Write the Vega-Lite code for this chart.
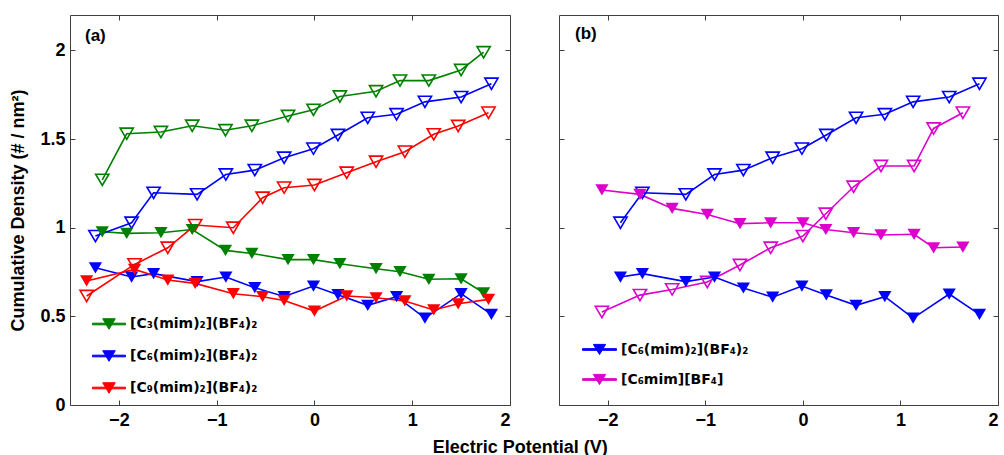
{
"$schema": "https://vega.github.io/schema/vega-lite/v6.json",
"padding": {"left": 9, "top": 14, "right": 2, "bottom": 0},
"background": "white",
"datasets": {"d": [
{"p":"a","s":"C3","t":"o","x":-2.17,"y":1.27},{"p":"a","s":"C3","t":"o","x":-1.92,"y":1.53},{"p":"a","s":"C3","t":"o","x":-1.57,"y":1.54},{"p":"a","s":"C3","t":"o","x":-1.25,"y":1.575},{"p":"a","s":"C3","t":"o","x":-0.91,"y":1.55},{"p":"a","s":"C3","t":"o","x":-0.64,"y":1.575},{"p":"a","s":"C3","t":"o","x":-0.27,"y":1.63},{"p":"a","s":"C3","t":"o","x":-0.01,"y":1.665},{"p":"a","s":"C3","t":"o","x":0.26,"y":1.74},{"p":"a","s":"C3","t":"o","x":0.63,"y":1.77},{"p":"a","s":"C3","t":"o","x":0.875,"y":1.83},{"p":"a","s":"C3","t":"o","x":1.17,"y":1.83},{"p":"a","s":"C3","t":"o","x":1.5,"y":1.89},{"p":"a","s":"C3","t":"o","x":1.73,"y":1.99},
{"p":"a","s":"C3","t":"f","x":-2.17,"y":0.977},{"p":"a","s":"C3","t":"f","x":-1.92,"y":0.968},{"p":"a","s":"C3","t":"f","x":-1.57,"y":0.972},{"p":"a","s":"C3","t":"f","x":-1.25,"y":0.99},{"p":"a","s":"C3","t":"f","x":-0.91,"y":0.872},{"p":"a","s":"C3","t":"f","x":-0.64,"y":0.855},{"p":"a","s":"C3","t":"f","x":-0.27,"y":0.82},{"p":"a","s":"C3","t":"f","x":-0.01,"y":0.82},{"p":"a","s":"C3","t":"f","x":0.26,"y":0.797},{"p":"a","s":"C3","t":"f","x":0.63,"y":0.769},{"p":"a","s":"C3","t":"f","x":0.875,"y":0.752},{"p":"a","s":"C3","t":"f","x":1.17,"y":0.709},{"p":"a","s":"C3","t":"f","x":1.5,"y":0.712},{"p":"a","s":"C3","t":"f","x":1.73,"y":0.633},
{"p":"a","s":"C6","t":"o","x":-2.24,"y":0.953},{"p":"a","s":"C6","t":"o","x":-1.87,"y":1.028},{"p":"a","s":"C6","t":"o","x":-1.645,"y":1.197},{"p":"a","s":"C6","t":"o","x":-1.2,"y":1.188},{"p":"a","s":"C6","t":"o","x":-0.906,"y":1.3},{"p":"a","s":"C6","t":"o","x":-0.61,"y":1.325},{"p":"a","s":"C6","t":"o","x":-0.31,"y":1.395},{"p":"a","s":"C6","t":"o","x":-0.01,"y":1.446},{"p":"a","s":"C6","t":"o","x":0.24,"y":1.523},{"p":"a","s":"C6","t":"o","x":0.545,"y":1.62},{"p":"a","s":"C6","t":"o","x":0.84,"y":1.64},{"p":"a","s":"C6","t":"o","x":1.13,"y":1.71},{"p":"a","s":"C6","t":"o","x":1.5,"y":1.737},{"p":"a","s":"C6","t":"o","x":1.81,"y":1.812},
{"p":"a","s":"C6","t":"f","x":-2.24,"y":0.774},{"p":"a","s":"C6","t":"f","x":-1.87,"y":0.722},{"p":"a","s":"C6","t":"f","x":-1.645,"y":0.741},{"p":"a","s":"C6","t":"f","x":-1.2,"y":0.696},{"p":"a","s":"C6","t":"f","x":-0.906,"y":0.722},{"p":"a","s":"C6","t":"f","x":-0.61,"y":0.662},{"p":"a","s":"C6","t":"f","x":-0.31,"y":0.612},{"p":"a","s":"C6","t":"f","x":-0.01,"y":0.671},{"p":"a","s":"C6","t":"f","x":0.24,"y":0.622},{"p":"a","s":"C6","t":"f","x":0.545,"y":0.562},{"p":"a","s":"C6","t":"f","x":0.84,"y":0.611},{"p":"a","s":"C6","t":"f","x":1.13,"y":0.49},{"p":"a","s":"C6","t":"f","x":1.5,"y":0.628},{"p":"a","s":"C6","t":"f","x":1.81,"y":0.511},
{"p":"a","s":"C9","t":"o","x":-2.33,"y":0.615},{"p":"a","s":"C9","t":"o","x":-1.84,"y":0.793},{"p":"a","s":"C9","t":"o","x":-1.5,"y":0.887},{"p":"a","s":"C9","t":"o","x":-1.22,"y":1.015},{"p":"a","s":"C9","t":"o","x":-0.83,"y":1.0},{"p":"a","s":"C9","t":"o","x":-0.53,"y":1.169},{"p":"a","s":"C9","t":"o","x":-0.31,"y":1.226},{"p":"a","s":"C9","t":"o","x":0.0,"y":1.241},{"p":"a","s":"C9","t":"o","x":0.33,"y":1.31},{"p":"a","s":"C9","t":"o","x":0.63,"y":1.372},{"p":"a","s":"C9","t":"o","x":0.925,"y":1.429},{"p":"a","s":"C9","t":"o","x":1.22,"y":1.527},{"p":"a","s":"C9","t":"o","x":1.47,"y":1.574},{"p":"a","s":"C9","t":"o","x":1.78,"y":1.649},
{"p":"a","s":"C9","t":"f","x":-2.33,"y":0.7},{"p":"a","s":"C9","t":"f","x":-1.84,"y":0.765},{"p":"a","s":"C9","t":"f","x":-1.5,"y":0.705},{"p":"a","s":"C9","t":"f","x":-1.22,"y":0.686},{"p":"a","s":"C9","t":"f","x":-0.83,"y":0.628},{"p":"a","s":"C9","t":"f","x":-0.53,"y":0.611},{"p":"a","s":"C9","t":"f","x":-0.31,"y":0.59},{"p":"a","s":"C9","t":"f","x":0.0,"y":0.53},{"p":"a","s":"C9","t":"f","x":0.33,"y":0.615},{"p":"a","s":"C9","t":"f","x":0.63,"y":0.605},{"p":"a","s":"C9","t":"f","x":0.925,"y":0.587},{"p":"a","s":"C9","t":"f","x":1.22,"y":0.536},{"p":"a","s":"C9","t":"f","x":1.47,"y":0.571},{"p":"a","s":"C9","t":"f","x":1.78,"y":0.596},
{"p":"b","s":"C6","t":"o","x":-1.87,"y":1.028},{"p":"b","s":"C6","t":"o","x":-1.645,"y":1.197},{"p":"b","s":"C6","t":"o","x":-1.2,"y":1.188},{"p":"b","s":"C6","t":"o","x":-0.906,"y":1.3},{"p":"b","s":"C6","t":"o","x":-0.61,"y":1.325},{"p":"b","s":"C6","t":"o","x":-0.31,"y":1.395},{"p":"b","s":"C6","t":"o","x":-0.01,"y":1.446},{"p":"b","s":"C6","t":"o","x":0.24,"y":1.523},{"p":"b","s":"C6","t":"o","x":0.545,"y":1.62},{"p":"b","s":"C6","t":"o","x":0.84,"y":1.64},{"p":"b","s":"C6","t":"o","x":1.13,"y":1.71},{"p":"b","s":"C6","t":"o","x":1.5,"y":1.737},{"p":"b","s":"C6","t":"o","x":1.81,"y":1.812},
{"p":"b","s":"C6","t":"f","x":-1.87,"y":0.722},{"p":"b","s":"C6","t":"f","x":-1.645,"y":0.741},{"p":"b","s":"C6","t":"f","x":-1.2,"y":0.696},{"p":"b","s":"C6","t":"f","x":-0.906,"y":0.722},{"p":"b","s":"C6","t":"f","x":-0.61,"y":0.66},{"p":"b","s":"C6","t":"f","x":-0.31,"y":0.608},{"p":"b","s":"C6","t":"f","x":-0.01,"y":0.671},{"p":"b","s":"C6","t":"f","x":0.24,"y":0.621},{"p":"b","s":"C6","t":"f","x":0.545,"y":0.562},{"p":"b","s":"C6","t":"f","x":0.84,"y":0.611},{"p":"b","s":"C6","t":"f","x":1.13,"y":0.49},{"p":"b","s":"C6","t":"f","x":1.5,"y":0.626},{"p":"b","s":"C6","t":"f","x":1.81,"y":0.511},
{"p":"b","s":"M","t":"o","x":-2.06,"y":0.525},{"p":"b","s":"M","t":"o","x":-1.67,"y":0.62},{"p":"b","s":"M","t":"o","x":-1.34,"y":0.652},{"p":"b","s":"M","t":"o","x":-0.98,"y":0.694},{"p":"b","s":"M","t":"o","x":-0.645,"y":0.79},{"p":"b","s":"M","t":"o","x":-0.33,"y":0.887},{"p":"b","s":"M","t":"o","x":0.0,"y":0.953},{"p":"b","s":"M","t":"o","x":0.235,"y":1.079},{"p":"b","s":"M","t":"o","x":0.52,"y":1.231},{"p":"b","s":"M","t":"o","x":0.8,"y":1.348},{"p":"b","s":"M","t":"o","x":1.14,"y":1.348},{"p":"b","s":"M","t":"o","x":1.34,"y":1.56},{"p":"b","s":"M","t":"o","x":1.64,"y":1.649},
{"p":"b","s":"M","t":"f","x":-2.06,"y":1.213},{"p":"b","s":"M","t":"f","x":-1.67,"y":1.188},{"p":"b","s":"M","t":"f","x":-1.34,"y":1.109},{"p":"b","s":"M","t":"f","x":-0.98,"y":1.075},{"p":"b","s":"M","t":"f","x":-0.645,"y":1.023},{"p":"b","s":"M","t":"f","x":-0.33,"y":1.028},{"p":"b","s":"M","t":"f","x":0.0,"y":1.028},{"p":"b","s":"M","t":"f","x":0.235,"y":0.99},{"p":"b","s":"M","t":"f","x":0.52,"y":0.972},{"p":"b","s":"M","t":"f","x":0.8,"y":0.959},{"p":"b","s":"M","t":"f","x":1.14,"y":0.963},{"p":"b","s":"M","t":"f","x":1.34,"y":0.887},{"p":"b","s":"M","t":"f","x":1.64,"y":0.891}
]},
"title": {"text": "Electric Potential (V)", "orient": "bottom", "anchor": "middle", "offset": 9, "dx": 16, "font": "Liberation Sans", "fontSize": 18, "fontWeight": "bold", "color": "#000"},
"spacing": 47,
"resolve": {"scale": {"color": "independent"}},
"hconcat": [
{
 "width": 440, "height": 390,
 "data": {"name": "d"},
 "transform": [{"filter": "datum.p == 'a'"}],
 "title": {"text": "(a)", "anchor": "start", "frame": "group", "offset": -30, "dx": 15, "font": "Liberation Sans", "fontSize": 17, "fontWeight": "bold", "color": "#000"},
 "layer": [
  {"mark": {"type": "line", "strokeWidth": 1.6},
   "encoding": {
    "x": {"field": "x", "type": "quantitative", "scale": {"domain": [-2.5, 2], "nice": false, "zero": false}, "axis": {"values": [-2,-1,0,1,2], "format": "~g", "title": null, "labelPadding": 11}},
    "y": {"field": "y", "type": "quantitative", "scale": {"domain": [0, 2.2], "nice": false, "zero": false}, "axis": {"values": [0,0.5,1,1.5,2], "format": "~g", "title": "Cumulative Density (# / nm²)", "labelPadding": 10, "titlePadding": 12}},
    "color": {"field": "s", "type": "nominal", "scale": {"domain": ["C3","C6","C9"], "range": ["#008000","#0000ff","#ff0000"]},
     "legend": {"orient": "none", "legendX": 22, "legendY": 292, "title": null, "symbolType": "M-1,-0.05H1V0.05H-1Z M-0.38,-0.32L0.38,-0.32L0,0.32Z", "symbolSize": 1089, "symbolOpacity": 1, "symbolStrokeWidth": 1, "rowPadding": 7, "padding": 0, "labelOffset": 4, "labelFont": "DejaVu Sans", "labelFontSize": 14, "labelFontWeight": "bold", "labelColor": "#000", "labelLimit": 300,
     "labelExpr": "{'C3':'[C₃(mim)₂](BF₄)₂','C6':'[C₆(mim)₂](BF₄)₂','C9':'[C₉(mim)₂](BF₄)₂'}[datum.label]"}},
    "detail": {"field": "t"}}},
  {"transform": [{"filter": "datum.t == 'o'"}],
   "mark": {"type": "point", "filled": false, "shape": "M-1,-0.85L1,-0.85L0,0.85Z", "size": 175, "strokeWidth": 1.6, "opacity": 1},
   "encoding": {"x": {"field": "x", "type": "quantitative", "axis": null}, "y": {"field": "y", "type": "quantitative", "axis": null}, "color": {"field": "s", "type": "nominal"}}},
  {"transform": [{"filter": "datum.t == 'f'"}],
   "mark": {"type": "point", "filled": true, "shape": "M-1,-0.85L1,-0.85L0,0.85Z", "size": 175, "opacity": 1},
   "encoding": {"x": {"field": "x", "type": "quantitative", "axis": null}, "y": {"field": "y", "type": "quantitative", "axis": null}, "color": {"field": "s", "type": "nominal"}}},
  {"mark": {"type": "point", "opacity": 0},
   "encoding": {"x": {"field": "x", "type": "quantitative", "axis": {"orient": "top", "labels": false, "title": null, "values": [-2,-1,0,1,2]}},
    "y": {"field": "y", "type": "quantitative", "axis": {"orient": "right", "labels": false, "title": null, "values": [0,0.5,1,1.5,2]}}}}
 ],
 "resolve": {"axis": {"x": "independent", "y": "independent"}}
},
{
 "width": 439, "height": 390,
 "data": {"name": "d"},
 "transform": [{"filter": "datum.p == 'b'"}],
 "title": {"text": "(b)", "anchor": "start", "frame": "group", "offset": -28, "dx": 16, "font": "Liberation Sans", "fontSize": 17, "fontWeight": "bold", "color": "#000"},
 "layer": [
  {"mark": {"type": "line", "strokeWidth": 1.6},
   "encoding": {
    "x": {"field": "x", "type": "quantitative", "scale": {"domain": [-2.5, 2], "nice": false, "zero": false}, "axis": {"values": [-2,-1,0,1,2], "format": "~g", "title": null, "labelPadding": 11}},
    "y": {"field": "y", "type": "quantitative", "scale": {"domain": [0, 2.2], "nice": false, "zero": false}, "axis": {"values": [0,0.5,1,1.5,2], "labels": false, "title": null}},
    "color": {"field": "s", "type": "nominal", "scale": {"domain": ["C6","M"], "range": ["#0000ff","#dd00cc"]},
     "legend": {"orient": "none", "legendX": 23, "legendY": 317, "title": null, "symbolType": "M-1,-0.05H1V0.05H-1Z M-0.36,-0.3L0.36,-0.3L0,0.3Z", "symbolSize": 1156, "symbolOpacity": 1, "symbolStrokeWidth": 1, "rowPadding": 5, "padding": 0, "labelOffset": 4, "labelFont": "DejaVu Sans", "labelFontSize": 14, "labelFontWeight": "bold", "labelColor": "#000", "labelLimit": 300,
     "labelExpr": "{'C6':'[C₆(mim)₂](BF₄)₂','M':'[C₆mim][BF₄]'}[datum.label]"}},
    "detail": {"field": "t"}}},
  {"transform": [{"filter": "datum.t == 'o'"}],
   "mark": {"type": "point", "filled": false, "shape": "M-1,-0.85L1,-0.85L0,0.85Z", "size": 175, "strokeWidth": 1.6, "opacity": 1},
   "encoding": {"x": {"field": "x", "type": "quantitative", "axis": null}, "y": {"field": "y", "type": "quantitative", "axis": null}, "color": {"field": "s", "type": "nominal"}}},
  {"transform": [{"filter": "datum.t == 'f'"}],
   "mark": {"type": "point", "filled": true, "shape": "M-1,-0.85L1,-0.85L0,0.85Z", "size": 175, "opacity": 1},
   "encoding": {"x": {"field": "x", "type": "quantitative", "axis": null}, "y": {"field": "y", "type": "quantitative", "axis": null}, "color": {"field": "s", "type": "nominal"}}},
  {"mark": {"type": "point", "opacity": 0},
   "encoding": {"x": {"field": "x", "type": "quantitative", "axis": {"orient": "top", "labels": false, "title": null, "values": [-2,-1,0,1,2]}},
    "y": {"field": "y", "type": "quantitative", "axis": {"orient": "right", "labels": false, "title": null, "values": [0,0.5,1,1.5,2]}}}}
 ],
 "resolve": {"axis": {"x": "independent", "y": "independent"}}
}
],
"config": {
 "view": {"stroke": "#404040", "strokeWidth": 1},
 "axis": {"domain": false, "grid": false, "ticks": true, "tickSize": -5, "tickColor": "#404040", "tickWidth": 1, "labelPadding": 8, "labelFont": "Liberation Sans", "labelFontSize": 18, "labelFontWeight": "bold", "labelColor": "#000", "titleFont": "Liberation Sans", "titleFontSize": 18, "titleFontWeight": "bold", "titleColor": "#000", "titlePadding": 10},
 "font": "Liberation Sans"
}
}
